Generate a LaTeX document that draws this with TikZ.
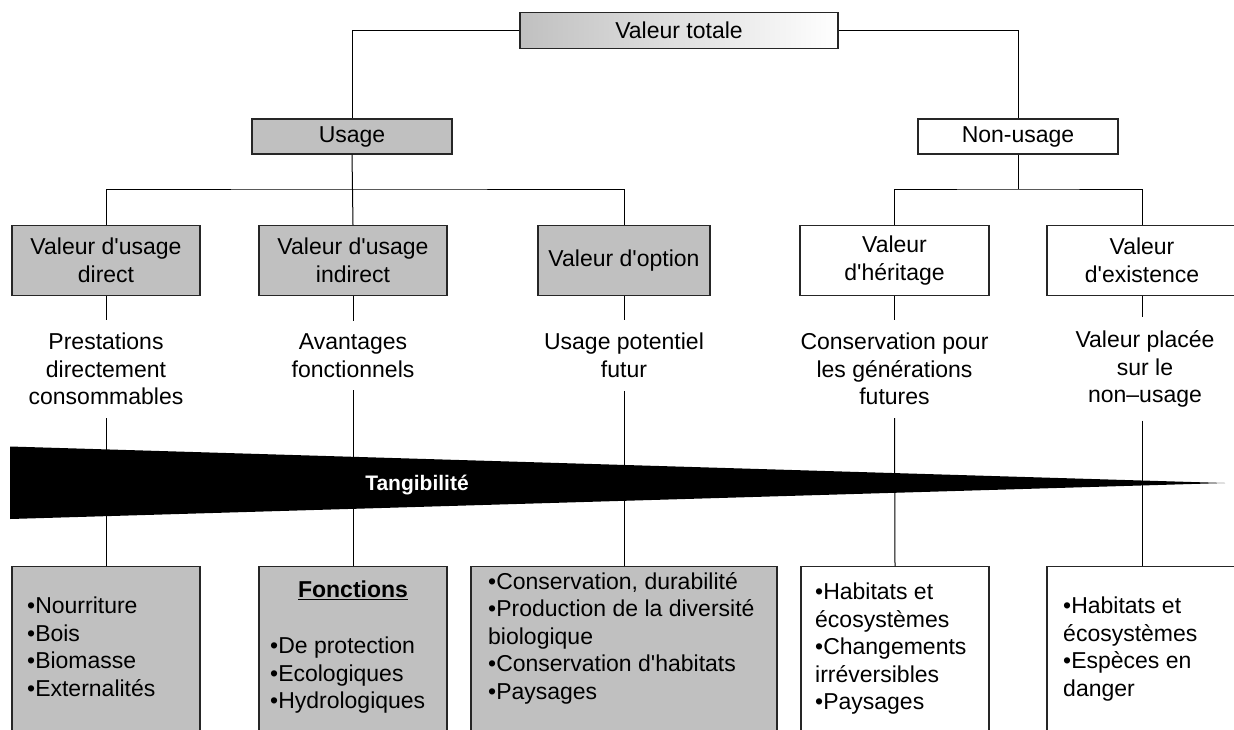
\documentclass[tikz,border=0pt]{standalone}
\usepackage{fontspec}
\setmainfont{Liberation Sans}
\usepackage{xcolor}
\usepackage{tikz}
\usetikzlibrary{positioning}
\definecolor{boxgrey}{HTML}{C0C0C0}
\newcommand{\ap}{\textquotesingle}
\tikzset{
  box/.style={draw=black!85, line width=1.2pt, minimum height=35pt, inner sep=2pt, align=center},
  greybox/.style={box, fill=boxgrey},
  shadebox/.style={box, left color=boxgrey, right color=white},
  valbox/.style={minimum width=188pt, minimum height=70pt},
  note/.style={align=center, inner xsep=2pt, inner ysep=13pt},
  listbox/.style={draw=black!85, line width=1.2pt, anchor=north, minimum width=188pt, minimum height=194pt},
  items/.style={align=left, anchor=north west, inner sep=0pt},
  link/.style={line width=1pt}
}

\begin{document}
\begin{tikzpicture}[x=1pt, y=-1pt, font=\fontsize{23}{27.5}\selectfont]
  \useasboundingbox (0,0) rectangle (1234,729);
  \clip (0,0) rectangle (1234,729);
  % top of the tree
  \node[shadebox, minimum width=318pt, minimum height=36pt] (total) at (679,30.5) {Valeur totale};
  \node[greybox, minimum width=200pt] (usage) at (352,136.5) {Usage};
  \node[box, minimum width=200pt] (nonusage) at (1018,136.5) {Non-usage};
  \draw[link] (total.west) -| (usage.north);
  \draw[link] (total.east) -| (nonusage.north);
  % value boxes
  \node[greybox, valbox] (direct) at (106,260.5) {Valeur d\ap usage\\direct};
  \node[greybox, valbox] (indirect) at (353,260.5) {Valeur d\ap usage\\indirect};
  \node[greybox, valbox, minimum width=172pt] (option) at (624,260.5) {Valeur d\ap option};
  \node[box, valbox, minimum width=189pt] (heritage) at (894.5,260.5) {Valeur\\d\ap héritage};
  \node[box, valbox, minimum width=190pt] (existence) at (1142,260.5) {Valeur\\d\ap existence};
  \coordinate (ubar) at (353,189);
  \coordinate (nbar) at (1018,189);
  \draw[link] (direct.north) |- (ubar) -| (option.north);
  \draw[link] (usage.south) -- (indirect.north);
  \draw[link] (heritage.north) |- (nbar) -| (existence.north);
  \draw[link] (nonusage.south) -- (nbar);
  % descriptions
  \node[note] (prest) at (106,369) {Prestations\\directement\\consommables};
  \node[note] (avant) at (353,355.5) {Avantages\\fonctionnels};
  \node[note] (poten) at (624,355.5) {Usage potentiel\\futur};
  \node[note] (conserv) at (894.5,369) {Conservation pour\\les générations\\futures};
  \node[note] (place) at (1145,369) {Valeur placée\\sur le\\non–usage};
  \draw[link] (direct.south) -- (prest.north);
  \draw[link] (indirect.south) -- (avant.north);
  \draw[link] (option.south) -- (poten.north);
  \draw[link] (heritage.south) -- (conserv.north);
  \draw[link] (existence.south) -- (existence.south |- place.north);
  % lists
  \node[listbox, fill=boxgrey] (nourr) at (106,566) {};
  \node[listbox, fill=boxgrey] (fonct) at (353,566) {};
  \node[listbox, fill=boxgrey, minimum width=306pt] (durab) at (624,566) {};
  \node[listbox, fill=white] (habit) at (895,566) {};
  \node[listbox, fill=white, minimum width=190pt] (danger) at (1142,566) {};
  \draw[link] (prest.south) -- (nourr.north);
  \draw[link] (avant.south) -- (fonct.north);
  \draw[link] (poten.south) -- (durab.north);
  \draw[link] (conserv.south) -- (habit.north);
  \draw[link] (existence.south |- place.south) -- (danger.north);
  \node[items] (nourrtxt) at (27,597) {•Nourriture\\•Bois\\•Biomasse\\•Externalités};
  \node[anchor=north, inner sep=0pt] (foncttitle) at (353,581) {\underline{\textbf{Fonctions}}};
  \node[items] (foncttxt) at (270,637) {•De protection\\•Ecologiques\\•Hydrologiques};
  \node[items] (durabtxt) at (488,572) {•Conservation, durabilité\\•Production de la diversité\\biologique\\•Conservation d\ap habitats\\•Paysages};
  \node[items] (habittxt) at (815,583) {•Habitats et\\écosystèmes\\•Changements\\irréversibles\\•Paysages};
  \node[items] (dangertxt) at (1063,597) {•Habitats et\\écosystèmes\\•Espèces en\\danger};
  % tangibility wedge
  \fill[black] (10,446.5) -- (1225,483) -- (10,519) -- cycle;
  \node[text=white, font=\fontsize{21}{25}\selectfont\bfseries] (tang) at (417,485) {Tangibilité};
\end{tikzpicture}
\end{document}
